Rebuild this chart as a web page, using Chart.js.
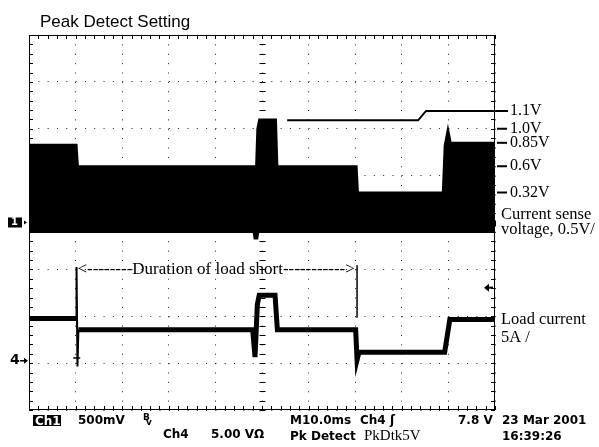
<!DOCTYPE html>
<html>
<head>
<meta charset="utf-8">
<script src="https://cdn.jsdelivr.net/npm/chart.js@4.4.0/dist/chart.umd.min.js"></script>
<style>
  html, body { margin: 0; padding: 0; background: #fff; }
  #wrap { width: 599px; height: 447px; }
</style>
</head>
<body>
<div id="wrap"><canvas id="scope" width="599" height="447"></canvas></div>
<script>
// time base M10.0ms/div, 10 divisions, trigger in the middle
// Ch1: current sense voltage (500mV/div), ground at screen centre
const ch1Time  = [-50, -39.8, -39.5, -1.6, -1.3, -1.0, -0.6, 3.0, 3.3, 20.3, 20.6, 38.8, 39.2, 39.9, 40.5, 50];
const ch1Volts = [0.83, 0.83, 0.6, 0.6, 0.55, 1.0, 1.1, 1.1, 0.6, 0.6, 0.32, 0.32, 0.82, 1.0, 0.85, 0.85];
const ch1FloorTime  = [-50, -1.8, -1.6, -1.0, -0.8, 50];
const ch1FloorVolts = [-0.1, -0.1, -0.17, -0.17, -0.1, -0.1];

// Ch4: load current (5A/div)
const ch4Time = [-50, -39.9, -39.8, -39.6, -39.4, -2.0, -1.5, -1.0, -0.6, 2.8, 3.3, 20.1, 20.4, 20.8, 39.2, 40.3, 50];
const ch4Amps = [4.5, 4.5, 10.0, -0.6, 3.3, 3.3, 0.4, 6.0, 7.0, 7.0, 3.3, 3.3, 0.1, 0.9, 0.9, 4.4, 4.4];

// hand drawn 1.1V call-out
const calloutTime  = [5.4, 33.5, 35.2, 52.8];
const calloutVolts = [1.09, 1.09, 1.19, 1.19];

// level marks on the right side
const levelVolts  = [1.19, 1.0, 0.85, 0.6, 0.32];
const levelLabels = ['1.1V', '1.0V', '0.85V', '0.6V', '0.32V'];

const voltsPerDiv = 0.5;
const ampsPerDiv = 5;
const ch4Offset = -2.95; // divisions

const pts = (xs, ys) => xs.map((t, i) => ({x: t, y: ys[i]}));

const graticule = {
  id: 'graticule',
  beforeDatasetsDraw(chart) {
    const {ctx, chartArea: a, scales: {x, y}} = chart;
    ctx.save();
    ctx.strokeStyle = '#000';
    ctx.lineWidth = 1;
    ctx.strokeRect(a.left + 0.5, a.top + 0.5, a.width - 1, a.height - 1);
    const xc = Math.round(x.getPixelForValue(0)) + 0.5;
    const yc = Math.round(y.getPixelForValue(0)) + 0.5;
    ctx.beginPath();
    for (let i = 0; i <= 50; i++) {
      const px = Math.round(x.getPixelForValue(x.min + i * 2)) + 0.5;
      ctx.moveTo(px, a.top); ctx.lineTo(px, a.top + 4);
      ctx.moveTo(px, a.bottom); ctx.lineTo(px, a.bottom - 4);
      ctx.moveTo(px, yc - 3); ctx.lineTo(px, yc + 3);
    }
    for (let i = 0; i <= 40; i++) {
      const py = Math.round(y.getPixelForValue(y.min + i * 0.2)) + 0.5;
      ctx.moveTo(a.left, py); ctx.lineTo(a.left + 4, py);
      ctx.moveTo(a.right, py); ctx.lineTo(a.right - 4, py);
      ctx.moveTo(xc - 3, py); ctx.lineTo(xc + 3, py);
    }
    ctx.stroke();
    ctx.restore();
  }
};

const labels = {
  id: 'labels',
  afterDraw(chart) {
    const {ctx, chartArea: a, scales: {x, v, a: amp}} = chart;
    ctx.save();
    ctx.fillStyle = '#000';
    ctx.strokeStyle = '#000';

    // title
    ctx.font = '17px "Liberation Sans", Arial, sans-serif';
    ctx.textBaseline = 'alphabetic';
    ctx.fillText('Peak Detect Setting', 40, 27);

    // level marks
    ctx.font = '16px "Liberation Serif", "Times New Roman", serif';
    ctx.textBaseline = 'middle';
    ctx.lineWidth = 2;
    levelVolts.forEach((lv, i) => {
      const py = v.getPixelForValue(lv);
      if (i > 0) {
        ctx.beginPath();
        ctx.moveTo(a.right + 2, py); ctx.lineTo(a.right + 12, py);
        ctx.stroke();
      }
      ctx.fillText(levelLabels[i], a.right + 15, py);
    });
    ctx.font = '16.5px "Liberation Serif", "Times New Roman", serif';
    ctx.fillText('Current sense', a.right + 6, v.getPixelForValue(0.08));
    ctx.fillText('voltage, 0.5V/', a.right + 6, v.getPixelForValue(-0.08));
    ctx.fillText('Load current', a.right + 6, amp.getPixelForValue(4.4));
    ctx.fillText('5A /', a.right + 6, amp.getPixelForValue(2.5));

    // duration of load short
    ctx.font = '17px "Liberation Serif", "Times New Roman", serif';
    ctx.fillText('<--------Duration of load short----------->', x.getPixelForValue(-39.6), amp.getPixelForValue(9.7));
    ctx.lineWidth = 1.5;
    ctx.beginPath();
    ctx.moveTo(x.getPixelForValue(20.4), amp.getPixelForValue(10.2));
    ctx.lineTo(x.getPixelForValue(20.4), amp.getPixelForValue(4.6));
    ctx.stroke();
    // T mark under the spike
    ctx.beginPath();
    ctx.moveTo(x.getPixelForValue(-40.5), amp.getPixelForValue(0.3));
    ctx.lineTo(x.getPixelForValue(-39.0), amp.getPixelForValue(0.3));
    ctx.stroke();

    // channel markers
    const g1 = v.getPixelForValue(0);
    ctx.fillRect(8, g1 - 5, 14, 10);
    ctx.fillStyle = '#fff';
    ctx.font = 'bold 10px "DejaVu Sans", sans-serif';
    ctx.fillText('1', 11, g1);
    ctx.fillStyle = '#000';
    ctx.beginPath();
    ctx.moveTo(24, g1 - 2); ctx.lineTo(27, g1); ctx.lineTo(24, g1 + 2); ctx.fill();

    const g4 = amp.getPixelForValue(0);
    ctx.font = 'bold 14px "DejaVu Sans", sans-serif';
    ctx.fillText('4', 10, g4);
    ctx.lineWidth = 1.5;
    ctx.beginPath();
    ctx.moveTo(20, g4); ctx.lineTo(27, g4); ctx.stroke();
    ctx.beginPath();
    ctx.moveTo(24, g4 - 3); ctx.lineTo(28, g4); ctx.lineTo(24, g4 + 3); ctx.fill();

    // trigger level marker
    const tl = amp.getPixelForValue(7.8);
    ctx.beginPath();
    ctx.moveTo(a.right - 11, tl); ctx.lineTo(a.right - 6, tl - 4); ctx.lineTo(a.right - 6, tl + 4); ctx.fill();
    ctx.fillRect(a.right - 7, tl - 1, 5, 2);

    // readout
    ctx.textBaseline = 'alphabetic';
    ctx.font = 'bold 12px "DejaVu Sans", sans-serif';
    ctx.fillRect(33, 415, 28, 11);
    ctx.fillStyle = '#fff';
    ctx.fillText('Ch1', 35, 425);
    ctx.fillStyle = '#000';
    ctx.fillText('500mV', 78, 424);
    ctx.font = 'bold 9px "DejaVu Sans", sans-serif';
    ctx.fillText('B', 143, 420);
    ctx.fillText('v', 146, 425);
    ctx.font = 'bold 12px "DejaVu Sans", sans-serif';
    ctx.fillText('M10.0ms', 290, 424);
    ctx.fillText('Ch4 \u0283', 360, 424);
    ctx.fillText('7.8 V', 458, 424);
    ctx.fillText('23 Mar 2001', 502, 424);
    ctx.fillText('Ch4', 163, 438);
    ctx.fillText('5.00 V\u03a9', 211, 438);
    ctx.fillText('Pk Detect', 290, 440);
    ctx.fillText('16:39:26', 502, 440);
    ctx.font = '15px "Liberation Serif", serif';
    ctx.fillText('PkDtk5V', 364, 440);
    ctx.restore();
  }
};

new Chart(document.getElementById('scope'), {
  type: 'line',
  data: {
    datasets: [
      {
        label: 'Ch1',
        data: pts(ch1Time, ch1Volts),
        yAxisID: 'v',
        borderColor: '#000',
        backgroundColor: '#000',
        borderWidth: 2,
        pointRadius: 0,
        fill: '+1'
      },
      {
        label: 'Ch1 floor',
        data: pts(ch1FloorTime, ch1FloorVolts),
        yAxisID: 'v',
        borderColor: '#000',
        borderWidth: 2,
        pointRadius: 0,
        fill: false
      },
      {
        label: 'Ch4',
        data: pts(ch4Time, ch4Amps),
        yAxisID: 'a',
        borderColor: '#000',
        borderWidth: 5,
        pointRadius: 0,
        fill: false,
        segment: {
          borderWidth: c => (c.p0.parsed.x > -40 && c.p1.parsed.x < -39.3) ? 2 : 5
        }
      },
      {
        label: 'callout',
        data: pts(calloutTime, calloutVolts),
        yAxisID: 'v',
        borderColor: '#000',
        borderWidth: 2,
        pointRadius: 0,
        fill: false,
        clip: false
      }
    ]
  },
  options: {
    responsive: false,
    animation: false,
    devicePixelRatio: 1,
    layout: { padding: { left: 29, top: 35, right: 104, bottom: 37 } },
    plugins: { legend: { display: false }, tooltip: { enabled: false } },
    scales: {
      x: {
        type: 'linear', min: -50, max: 50,
        ticks: { display: false, stepSize: 10 },
        grid: { color: '#222', lineWidth: 1, drawTicks: false },
        border: { display: false, dash: [1, 8.375] }
      },
      y: {
        min: -4, max: 4,
        ticks: { display: false, stepSize: 1 },
        grid: { color: '#222', lineWidth: 1, drawTicks: false },
        border: { display: false, dash: [1, 8.32] }
      },
      v: { display: false, min: -4 * voltsPerDiv, max: 4 * voltsPerDiv },
      a: { display: false, min: (-4 - ch4Offset) * ampsPerDiv, max: (4 - ch4Offset) * ampsPerDiv }
    }
  },
  plugins: [graticule, labels]
});
</script>
</body>
</html>
